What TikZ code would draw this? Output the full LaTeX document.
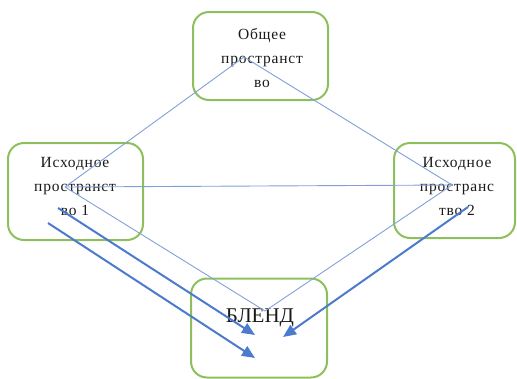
\documentclass[tikz,border=0pt]{standalone}
\usepackage{fontspec}
\setmainfont{Liberation Serif}
\usetikzlibrary{arrows.meta}
\definecolor{boxgreen}{RGB}{141,192,92}
\definecolor{thinblue}{RGB}{130,160,215}
\definecolor{arrblue}{RGB}{76,122,204}
\tikzset{
  spacebox/.style={draw=boxgreen, line width=2pt, rounded corners=16pt, inner sep=0pt},
  boxtext/.style={align=center, inner sep=0pt, text=black!90, font=\fontsize{15.5}{24}\selectfont\addfontfeatures{LetterSpace=5}},
  thinline/.style={draw=thinblue, line width=0.9pt},
  thickarrow/.style={draw=arrblue, line width=2pt, -{Triangle[length=13pt,width=11pt]}}
}
\begin{document}
\begin{tikzpicture}[x=1pt,y=-1pt]
\useasboundingbox (0,0) rectangle (517,378);
% boxes
\node[spacebox, minimum width=135pt, minimum height=88pt] (top) at (260.5,56) {};
\node[spacebox, minimum width=135pt, minimum height=97pt] (left) at (75.5,191.5) {};
\node[spacebox, minimum width=121pt, minimum height=95pt] (right) at (454.5,190.5) {};
\node[spacebox, minimum width=136pt, minimum height=99pt] (blend) at (259,328) {};
% texts
\node[boxtext] (toptext) at (262,58) {Общее\\пространст\\во};
\node[boxtext] (lefttext) at (75,186) {Исходное\\пространст\\во 1};
\node[boxtext] (righttext) at (457,186) {Исходное\\пространс\\тво 2};
\node[inner sep=0pt, text=black!90, font=\fontsize{21}{24}\selectfont] (blendtext) at (260,318) {БЛЕНД};
% interior points
\coordinate (T) at (244,57);
\coordinate (L) at (65,187);
\coordinate (R) at (452,185);
\coordinate (B) at (265,311);
\draw[thinline] (T) -- (L);
\draw[thinline] (T) -- (R);
\draw[thinline] (L) -- (R);
\draw[thinline] (L) -- (B);
\draw[thinline] (R) -- (B);
% arrows
\coordinate (a1s) at (58,208);
\coordinate (a1e) at (255,335);
\coordinate (a2s) at (48,223);
\coordinate (a2e) at (255,358);
\coordinate (a3s) at (468,207);
\coordinate (a3e) at (283,337);
\draw[thickarrow] (a1s) -- (a1e);
\draw[thickarrow] (a2s) -- (a2e);
\draw[thickarrow] (a3s) -- (a3e);
\end{tikzpicture}
\end{document}
